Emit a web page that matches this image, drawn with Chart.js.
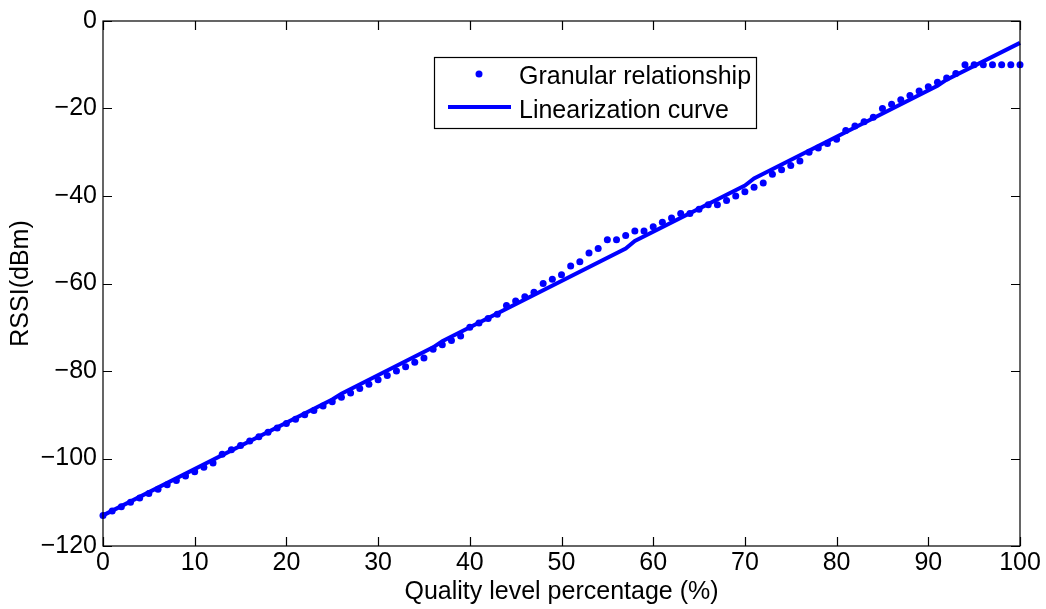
<!DOCTYPE html>
<html>
<head>
<meta charset="utf-8">
<script src="https://cdn.jsdelivr.net/npm/chart.js@4/dist/chart.umd.min.js"></script>
<style>
  html, body { margin: 0; padding: 0; background: #fff; }
  #wrap { width: 1046px; height: 609px; position: relative; }
</style>
</head>
<body>
<div id="wrap"><canvas id="chart" width="1046" height="609"></canvas></div>
<script>
// -------------------------------------------------------------------
// Data
// -------------------------------------------------------------------
const quality = [
  0, 1, 2, 3, 4, 5, 6, 7, 8, 9, 10, 11, 12, 13, 14, 15, 16, 17, 18, 19, 20,
  21, 22, 23, 24, 25, 26, 27, 28, 29, 30, 31, 32, 33, 34, 35, 36, 37, 38, 39, 40,
  41, 42, 43, 44, 45, 46, 47, 48, 49, 50, 51, 52, 53, 54, 55, 56, 57, 58, 59, 60,
  61, 62, 63, 64, 65, 66, 67, 68, 69, 70, 71, 72, 73, 74, 75, 76, 77, 78, 79, 80,
  81, 82, 83, 84, 85, 86, 87, 88, 89, 90, 91, 92, 93, 94, 95, 96, 97, 98, 99, 100
];
const granularRssi = [
  -113, -112, -111, -110, -109, -108, -107, -106, -105, -104, -103, -102, -101, -99, -98, -97, -96, -95, -94, -93, -92,
  -91, -90, -89, -88, -87, -86, -85, -84, -83, -82, -81, -80, -79, -78, -77, -75, -74, -73, -72, -70,
  -69, -68, -67, -65, -64, -63, -62, -60, -59, -58, -56, -55, -53, -52, -50, -50, -49, -48, -48, -47,
  -46, -45, -44, -44, -43, -42, -42, -41, -40, -39, -38, -37, -35, -34, -33, -32, -30, -29, -28, -27,
  -25, -24, -23, -22, -20, -19, -18, -17, -16, -15, -14, -13, -12, -10, -10, -10, -10, -10, -10, -10
];
const linearX    = [0, 25, 26, 36, 37, 57, 58, 70, 71, 91, 92, 100];
const linearRssi = [-113, -86.5, -85.2, -74.6, -73.2, -52, -50.3, -37.6, -36, -14.8, -13.4, -5];

const xTicks = [0, 10, 20, 30, 40, 50, 60, 70, 80, 90, 100];
const yTicks = [0, -20, -40, -60, -80, -100, -120];

const seriesNames = ["Granular relationship", "Linearization curve"];

// -------------------------------------------------------------------
// Style
// -------------------------------------------------------------------
const BLUE = "#0000ff";
const FONT = "'Liberation Sans', Arial, Helvetica, sans-serif";
const FS   = 25;

function fmtNeg(v) {
  return v < 0 ? "\u2212" + Math.abs(v) : String(v);
}

// box round the plot with inward ticks on all four sides (MATLAB look)
const framePlugin = {
  id: "frame",
  afterDatasetsDraw(chart) {
    const { ctx, chartArea: a, scales } = chart;
    const len = 9;
    ctx.save();
    ctx.strokeStyle = "#000";
    ctx.lineWidth = 1.2;
    ctx.strokeRect(a.left, a.top, a.right - a.left, a.bottom - a.top);
    ctx.beginPath();
    xTicks.forEach(t => {
      const px = Math.round(scales.x.getPixelForValue(t)) + 0.5;
      ctx.moveTo(px, a.bottom); ctx.lineTo(px, a.bottom - len);
      ctx.moveTo(px, a.top);    ctx.lineTo(px, a.top + len);
    });
    yTicks.forEach(t => {
      const py = Math.round(scales.y.getPixelForValue(t)) + 0.5;
      ctx.moveTo(a.left, py);  ctx.lineTo(a.left + len, py);
      ctx.moveTo(a.right, py); ctx.lineTo(a.right - len, py);
    });
    ctx.stroke();
    ctx.restore();
  }
};

// legend box inside the plot
const legendPlugin = {
  id: "boxLegend",
  afterDraw(chart) {
    const { ctx } = chart;
    const bx = 434, by = 57, bw = 322, bh = 71;
    ctx.save();
    ctx.fillStyle = "#fff";
    ctx.fillRect(bx, by, bw, bh);
    ctx.strokeStyle = "#000";
    ctx.lineWidth = 1.2;
    ctx.strokeRect(bx + 0.5, by + 0.5, bw, bh);

    // row 1: dot marker
    ctx.fillStyle = BLUE;
    ctx.beginPath();
    ctx.arc(479, 74, 3.5, 0, Math.PI * 2);
    ctx.fill();
    // row 2: line sample
    ctx.strokeStyle = BLUE;
    ctx.lineWidth = 4;
    ctx.beginPath();
    ctx.moveTo(448, 107);
    ctx.lineTo(511, 107);
    ctx.stroke();

    ctx.fillStyle = "#000";
    ctx.font = FS + "px " + FONT;
    ctx.textBaseline = "alphabetic";
    ctx.fillText(seriesNames[0], 519, 84);
    ctx.fillText(seriesNames[1], 519, 118);
    ctx.restore();
  }
};

// -------------------------------------------------------------------
// Chart
// -------------------------------------------------------------------
new Chart(document.getElementById("chart"), {
  type: "scatter",
  data: {
    datasets: [
      {
        label: seriesNames[0],
        data: quality.map((q, i) => ({ x: q, y: granularRssi[i] })),
        showLine: false,
        pointRadius: 3.5,
        pointBorderWidth: 0,
        pointBackgroundColor: BLUE,
        backgroundColor: BLUE,
        clip: false
      },
      {
        label: seriesNames[1],
        data: linearX.map((q, i) => ({ x: q, y: linearRssi[i] })),
        showLine: true,
        borderColor: BLUE,
        borderWidth: 4,
        pointRadius: 0,
        tension: 0,
        clip: false
      }
    ]
  },
  options: {
    responsive: false,
    animation: false,
    layout: { padding: { top: 17, right: 26, left: 0, bottom: 0 } },
    plugins: {
      legend:  { display: false },
      tooltip: { enabled: false }
    },
    scales: {
      x: {
        type: "linear",
        min: 0,
        max: 100,
        afterBuildTicks: s => { s.ticks = xTicks.map(v => ({ value: v })); },
        afterFit: s => { s.height = 63; },
        grid:   { display: false, drawTicks: false },
        border: { display: false },
        ticks:  { color: "#000", padding: 2, maxRotation: 0, font: { family: FONT, size: FS } },
        title:  {
          display: true,
          text: "Quality level percentage (%)",
          color: "#000",
          padding: { top: 0, bottom: 2 },
          font: { family: FONT, size: FS }
        }
      },
      y: {
        type: "linear",
        min: -120,
        max: 0,
        afterBuildTicks: s => { s.ticks = yTicks.map(v => ({ value: v })); },
        afterFit: s => { s.width = 103; },
        grid:   { display: false, drawTicks: false },
        border: { display: false },
        ticks:  {
          color: "#000",
          padding: 6,
          font: { family: FONT, size: FS },
          callback: v => fmtNeg(v)
        },
        title:  {
          display: true,
          text: "RSSI(dBm)",
          color: "#000",
          padding: { top: 6, bottom: 0 },
          font: { family: FONT, size: FS }
        }
      }
    }
  },
  plugins: [framePlugin, legendPlugin]
});
</script>
</body>
</html>
